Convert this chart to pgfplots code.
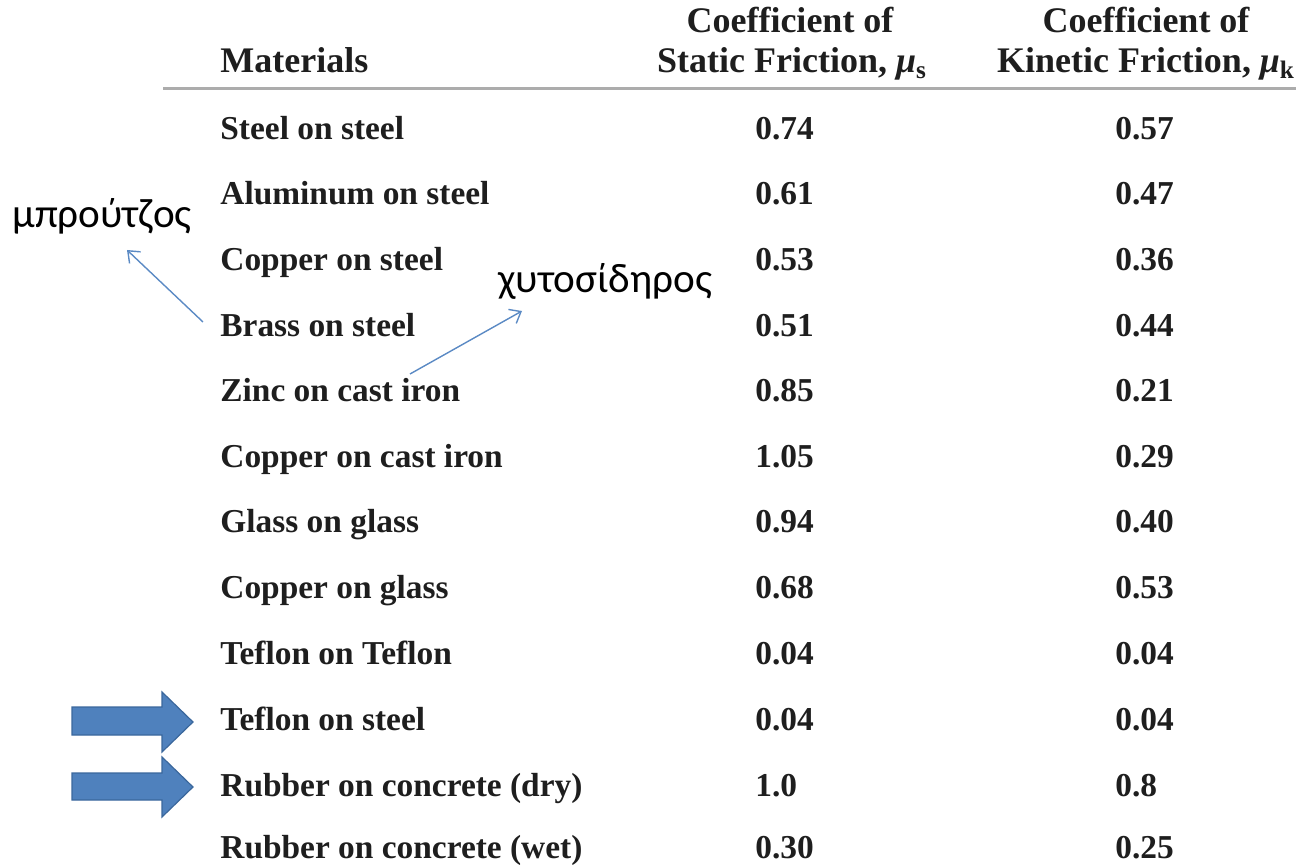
\documentclass[border=0pt]{standalone}
\usepackage{fontspec}
\setmainfont{Liberation Serif}
\newfontfamily\greekfont{Carlito}
\usepackage{pgfplots}
\usepackage{pgfplotstable}
\pgfplotsset{compat=1.18}
\usetikzlibrary{arrows.meta}

\definecolor{ink}{HTML}{1E1E1E}
\definecolor{arrowblue}{HTML}{4F81BD}
\definecolor{arrowedge}{HTML}{3A679C}
\definecolor{lineblue}{HTML}{5B8AC4}

\newcommand{\rowfont}{\fontsize{16.7}{20}\selectfont\bfseries}
\newcommand{\headfont}{\fontsize{18}{20}\selectfont\bfseries}
\newcommand{\notefont}{\greekfont\fontsize{20.6}{24}\selectfont}

% y = row centre in pixels from the top
\pgfplotstableread[col sep=semicolon]{
y;material;static;kinetic
128;Steel on steel;0.74;0.57
193;Aluminum on steel;0.61;0.47
259;Copper on steel;0.53;0.36
325;Brass on steel;0.51;0.44
390;Zinc on cast iron;0.85;0.21
456;Copper on cast iron;1.05;0.29
521;Glass on glass;0.94;0.40
587;Copper on glass;0.68;0.53
653;Teflon on Teflon;0.04;0.04
718;Teflon on steel;0.04;0.04
784;Rubber on concrete (dry);1.0;0.8
846;Rubber on concrete (wet);0.30;0.25
}\frictable

\begin{document}
\begin{tikzpicture}
\begin{axis}[
    scale only axis,
    width=648pt, height=432.5pt,
    xmin=0, xmax=1296, ymin=0, ymax=865,
    y dir=reverse,
    hide axis, clip=false,
    every node near coord/.append style={anchor=base west, inner sep=0pt,
        yshift=-6pt, text=ink, font=\rowfont},
]
% table columns
\addplot[only marks, mark=none, nodes near coords, point meta=explicit symbolic]
    table[x expr=220, y=y, meta=material] {\frictable};
\addplot[only marks, mark=none, nodes near coords, point meta=explicit symbolic]
    table[x expr=755, y=y, meta=static] {\frictable};
\addplot[only marks, mark=none, nodes near coords, point meta=explicit symbolic]
    table[x expr=1115, y=y, meta=kinetic] {\frictable};

% header
\node[anchor=base west, inner sep=0pt, text=ink, font=\headfont] at (axis cs:220,73) {Materials};
\node[anchor=base, inner sep=0pt, text=ink, font=\headfont] at (axis cs:790,33) {Coefficient of};
\node[anchor=base, inner sep=0pt, text=ink, font=\headfont] at (axis cs:792,73) {Static Friction, \textit{μ}\textsubscript{s}};
\node[anchor=base, inner sep=0pt, text=ink, font=\headfont] at (axis cs:1146,33) {Coefficient of};
\node[anchor=base, inner sep=0pt, text=ink, font=\headfont] at (axis cs:1146,73) {Kinetic Friction, \textit{μ}\textsubscript{k}};
\draw[gray!65, line width=1.5pt] (axis cs:163,89) -- (axis cs:1296,89);

% Greek notes
\node[anchor=base west, inner sep=0pt, font=\notefont] at (axis cs:12,228) {μπρούτζος};
\node[anchor=base west, inner sep=0pt, font=\notefont] at (axis cs:498,293) {χυτοσίδηρος};
\draw[lineblue, line width=0.7pt, -{Straight Barb[length=5pt, width=8pt]}]
    (axis cs:203,322) -- (axis cs:127,250);
\draw[lineblue, line width=0.7pt, -{Straight Barb[length=5pt, width=8pt]}]
    (axis cs:410,374) -- (axis cs:522,311);

% block arrows
\filldraw[fill=arrowblue, draw=arrowedge, line width=0.6pt]
    (axis cs:72,707) -- (axis cs:162,707) -- (axis cs:162,692) -- (axis cs:193,722)
    -- (axis cs:162,752) -- (axis cs:162,735) -- (axis cs:72,735) -- cycle;
\filldraw[fill=arrowblue, draw=arrowedge, line width=0.6pt]
    (axis cs:72,773) -- (axis cs:162,773) -- (axis cs:162,757) -- (axis cs:193,787)
    -- (axis cs:162,817) -- (axis cs:162,800) -- (axis cs:72,800) -- cycle;
\end{axis}
\pgfresetboundingbox
\path (current axis.south west) rectangle (current axis.north east);
\end{tikzpicture}
\end{document}
